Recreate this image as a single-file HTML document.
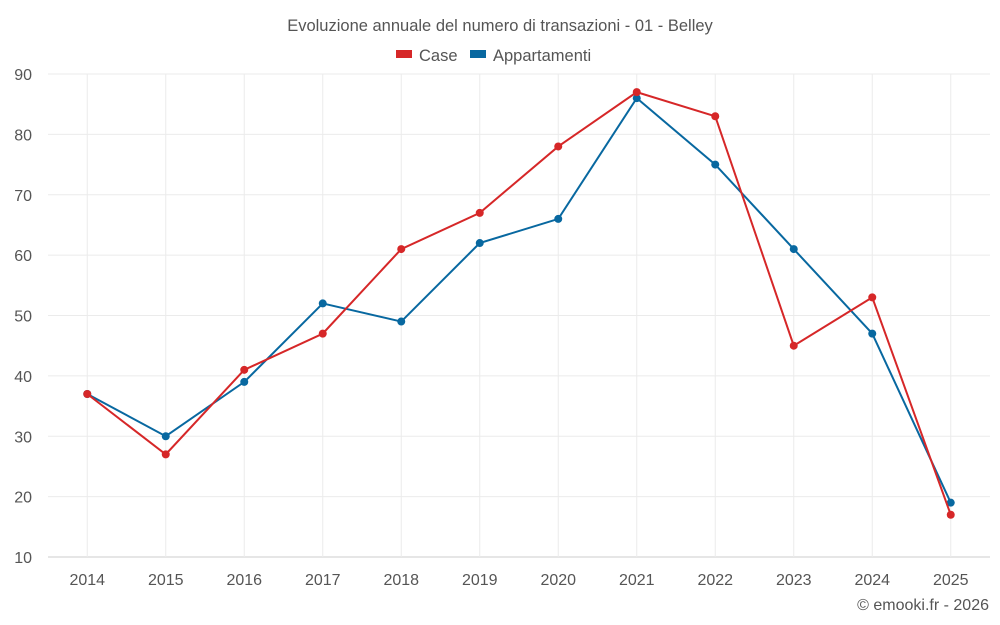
<!DOCTYPE html>
<html><head><meta charset="utf-8"><style>
body{margin:0;background:#fff;font-family:"Liberation Sans",Arial,sans-serif;}
svg{display:block}
</style></head><body>
<svg id="chart" width="1000" height="625">
<text x="500" y="31" text-anchor="middle" font-size="16.5" fill="#555">Evoluzione annuale del numero di transazioni - 01 - Belley</text>
<g>
<g><rect x="396" y="50" width="16" height="8" fill="#d62728"/><text x="419" y="61" font-size="16.5" fill="#555">Case</text></g>
<g><rect x="470" y="50" width="16" height="8" fill="#0868a0"/><text x="493" y="61" font-size="16.5" fill="#555">Appartamenti</text></g>
</g>
<g id="grid"></g><g id="axes"></g><g id="series"></g>
<text x="989" y="610" text-anchor="end" font-size="16" fill="#555">© emooki.fr - 2026</text>
</svg>
<script>
const categories=["2014","2015","2016","2017","2018","2019","2020","2021","2022","2023","2024","2025"];
const caseValues=[37,27,41,47,61,67,78,87,83,45,53,17];
const appartamentiValues=[37,30,39,52,49,62,66,86,75,61,47,19];
const yTicks=[10,20,30,40,50,60,70,80,90];
const NS="http://www.w3.org/2000/svg";
const L=48,R=990,T=74,B=557,yMin=10,yMax=90;
const bw=(R-L)/categories.length;
const xS=i=>L+bw*(i+0.5);
const yS=v=>B-(v-yMin)/(yMax-yMin)*(B-T);
function mk(t,a,p){const e=document.createElementNS(NS,t);for(const k in a)e.setAttribute(k,a[k]);p.appendChild(e);return e;}
const grid=document.getElementById('grid'),axes=document.getElementById('axes'),ser=document.getElementById('series');
yTicks.forEach(v=>{
const l=mk('line',{x1:L,x2:R,y1:yS(v),y2:yS(v),stroke:v===yMin?'#ccc':'#ebebeb'},grid);


const t=mk('text',{x:L-16,y:yS(v)+6,'text-anchor':'end','font-size':16,fill:'#555'},axes);
t.textContent=v;


});
categories.forEach((c,i)=>{
const l=mk('line',{x1:xS(i),x2:xS(i),y1:T,y2:B,stroke:'#ebebeb'},grid);


const t=mk('text',{x:xS(i),y:B+28,'text-anchor':'middle','font-size':16,fill:'#555'},axes);
t.textContent=c;


});
function draw(vals,color,name){
const p=mk('polyline',{points:vals.map((v,i)=>xS(i)+','+yS(v)).join(' '),fill:'none',stroke:color,'stroke-width':2},ser);


vals.forEach((v,i)=>{
const c=mk('circle',{cx:xS(i),cy:yS(v),r:4,fill:color},ser);


});
}
draw(appartamentiValues,'#0868a0','appartamenti');
draw(caseValues,'#d62728','case');
</script>
</body></html>
